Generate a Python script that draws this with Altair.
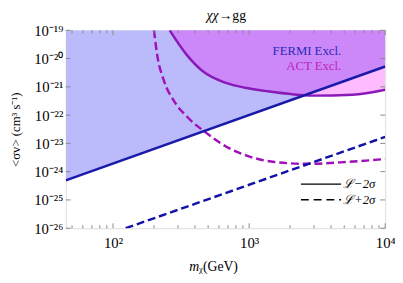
import altair as alt
import pandas as pd
import numpy as np

# ---------------- data ----------------
fermi_x = [45, 10000]                 # FERMI  L-2sigma (solid)
fermi_y = [4.9e-25, 5.25e-21]
fermi2_x = [124, 10000]               # FERMI  L+2sigma (dashed)
fermi2_y = [1.0e-26, 1.7e-23]
act_x = [261, 347, 457, 676, 933, 1303, 2951, 5754, 10000]        # ACT L-2sigma
act_y = [1e-19, 1.38e-20, 3.55e-21, 1.38e-21, 9.3e-22, 7.2e-22, 4.9e-22, 5.25e-22, 7.9e-22]
act2_x = [200, 211, 237, 279, 358, 482, 671, 984, 1538, 2655, 5152, 10000]  # ACT L+2sigma
act2_y = [1e-19, 1.38e-20, 1.62e-21, 3.3e-22, 7.9e-23, 2.4e-23, 7.9e-24, 3.55e-24,
          2.19e-24, 1.9e-24, 2.19e-24, 2.8e-24]

x_major = [100, 1000, 10000]
x_minor = [50, 60, 70, 80, 90, 200, 300, 400, 500, 600, 700, 800, 900,
           2000, 3000, 4000, 5000, 6000, 7000, 8000, 9000]
y_major = [1e-26, 1e-25, 1e-24, 1e-23, 1e-22, 1e-21, 1e-20, 1e-19]
x_labels = {100: "10²", 1000: "10³", 10000: "10⁴"}
y_labels = {-26: "10⁻²⁶", -25: "10⁻²⁵", -24: "10⁻²⁴", -23: "10⁻²³",
            -22: "10⁻²²", -21: "10⁻²¹", -20: "10⁻²⁰", -19: "10⁻¹⁹"}

TOP = 1e-19
W, H = 326, 202
FONT = "Liberation Serif"

# ---------------- derived tables ----------------
fermi_df = pd.DataFrame({"x": fermi_x, "y": fermi_y, "top": TOP})
fermi2_df = pd.DataFrame({"x": fermi2_x, "y": fermi2_y})
act_df = pd.DataFrame({"x": act_x, "y": act_y, "top": TOP})
act2_df = pd.DataFrame({"x": act2_x, "y": act2_y})

# overlap region (above both FERMI and ACT limits)
lfx, lfy = np.log10(fermi_x), np.log10(fermi_y)
lax, lay = np.log10(act_x), np.log10(act_y)
fl = np.interp(lax, lfx, lfy)
ox, oy = [], []
for i in range(len(lax)):
    ox.append(lax[i]); oy.append(max(lay[i], fl[i]))
    if i + 1 < len(lax):
        d0, d1 = lay[i] - fl[i], lay[i + 1] - fl[i + 1]
        if d0 * d1 < 0:
            t = d0 / (d0 - d1)
            cx = lax[i] + t * (lax[i + 1] - lax[i])
            ox.append(cx); oy.append(lay[i] + t * (lay[i + 1] - lay[i]))
over_df = pd.DataFrame({"x": 10 ** np.array(ox), "y": 10 ** np.array(oy), "top": TOP})

xt_major = pd.DataFrame({"x": x_major})
xt_minor = pd.DataFrame({"x": x_minor})
yt_major = pd.DataFrame({"y": y_major})

x_expr = " : ".join(f'datum.value == {k} ? "{v}"' for k, v in x_labels.items()) + ' : ""'
y_expr = " : ".join(f'round(log(datum.value)/LN10) == {k} ? "{v}"' for k, v in y_labels.items()) + ' : ""'

xscale = alt.Scale(type="log", domain=[45, 10000], nice=False)
yscale = alt.Scale(type="log", domain=[1e-26, 1e-19], nice=False)

xaxis = alt.Axis(values=x_major, labelExpr=x_expr, ticks=False, domain=False, grid=False,
                 title=None, labelFont=FONT, labelFontSize=15, labelColor="black",
                 labelPadding=8, labelFlush=False, labelOverlap=False)
yaxis = alt.Axis(values=y_major, labelExpr=y_expr, ticks=False, domain=False, grid=False,
                 title="<σv> (cm³ s⁻¹)", labelFont=FONT, labelFontSize=15, labelColor="black",
                 labelPadding=3, titleFont=FONT, titleFontSize=13, titleFontWeight="normal",
                 titleColor="black", titleX=-51, titleY=H / 2, titleAngle=-90,
                 titleAlign="center", titleBaseline="middle", labelFlush=False, labelOverlap=False)

X = alt.X("x:Q", scale=xscale, axis=xaxis)
Y = alt.Y("y:Q", scale=yscale, axis=yaxis)

pink = alt.Chart(act_df).mark_area(color="#ffbbff", opacity=1, clip=True, interpolate="monotone").encode(
    x=X, y=Y, y2="top:Q")
blue = alt.Chart(fermi_df).mark_area(color="#bbbbfb", opacity=1, clip=True).encode(
    x=X, y=Y, y2="top:Q")
purple = alt.Chart(over_df).mark_area(color="#cc88f8", opacity=1, clip=True, interpolate="monotone").encode(
    x=X, y=Y, y2="top:Q")

act2_line = alt.Chart(act2_df).mark_line(color="#a010b8", strokeWidth=2.5, strokeDash=[8, 4],
                                          clip=True, interpolate="monotone").encode(x=X, y=Y)
fermi2_line = alt.Chart(fermi2_df).mark_line(color="#1212a8", strokeWidth=2.5, strokeDash=[8, 4],
                                             clip=True).encode(x=X, y=Y)
act_line = alt.Chart(act_df).mark_line(color="#8a1ab8", strokeWidth=2.5, clip=True,
                                       interpolate="monotone").encode(x=X, y=Y)
fermi_line = alt.Chart(fermi_df).mark_line(color="#1a1aaa", strokeWidth=2.5, clip=True).encode(x=X, y=Y)

TICK = "#888888"
xt_b_major = alt.Chart(xt_major).mark_rule(color=TICK, strokeWidth=1).encode(
    x=X, y=alt.value(H), y2=alt.value(H - 5))
xt_t_major = alt.Chart(xt_major).mark_rule(color=TICK, strokeWidth=1).encode(
    x=X, y=alt.value(0), y2=alt.value(5))
xt_b_minor = alt.Chart(xt_minor).mark_rule(color=TICK, strokeWidth=1).encode(
    x=X, y=alt.value(H), y2=alt.value(H - 3))
xt_t_minor = alt.Chart(xt_minor).mark_rule(color=TICK, strokeWidth=1).encode(
    x=X, y=alt.value(0), y2=alt.value(3))
yt_l = alt.Chart(yt_major).mark_rule(color=TICK, strokeWidth=1).encode(
    y=Y, x=alt.value(0), x2=alt.value(5))
yt_r = alt.Chart(yt_major).mark_rule(color=TICK, strokeWidth=1).encode(
    y=Y, x=alt.value(W), x2=alt.value(W - 5))

one = pd.DataFrame({"a": [0]})


def label(txt, x, y, size=13, color="black", align="left", style="normal", baseline="middle"):
    return alt.Chart(one).mark_text(font=FONT, fontSize=size, align=align, baseline=baseline,
                                    color=color, fontStyle=style).encode(
        x=alt.value(x), y=alt.value(y), text=alt.value(txt))


title_a = label("χχ", W / 2 - 7, -11, size=14, align="right", style="italic", baseline="alphabetic")
title_b = label("→gg", W / 2 - 7, -11, size=14, align="left", baseline="alphabetic")
xt_a = label("m", W / 2 - 27, H + 40, size=14, style="italic", align="right")
xt_b = label("ᵪ(GeV)", W / 2 - 27, H + 40, size=14, align="left")

t_fermi = label("FERMI Excl.", 281, 21, color="#2a2ab8", align="right")
t_act = label("ACT Excl.", 281, 37, color="#c020c0", align="right")

leg_solid = alt.Chart(one).mark_rule(color="black", strokeWidth=1.5).encode(
    x=alt.value(240), x2=alt.value(281), y=alt.value(157))
leg_dash = alt.Chart(one).mark_rule(color="black", strokeWidth=1.5, strokeDash=[8, 5]).encode(
    x=alt.value(240), x2=alt.value(281), y=alt.value(173))
leg_t1 = label("ℒ−2σ", 283, 157, style="italic")
leg_t2 = label("ℒ+2σ", 283, 173, style="italic")

chart = alt.layer(
    pink, blue, purple, act2_line, fermi2_line, act_line, fermi_line,
    xt_b_major, xt_t_major, xt_b_minor, xt_t_minor, yt_l, yt_r,
    title_a, title_b, xt_a, xt_b,
    t_fermi, t_act, leg_solid, leg_dash, leg_t1, leg_t2,
).properties(
    width=W, height=H,
    autosize=alt.AutoSizeParams(type="none"),
    padding={"left": 59, "top": 20, "right": 10, "bottom": 45},
).configure_view(stroke="#999999", strokeWidth=1).configure(background="white")

chart.save("out.html", embed_options={"renderer": "svg", "actions": False})
